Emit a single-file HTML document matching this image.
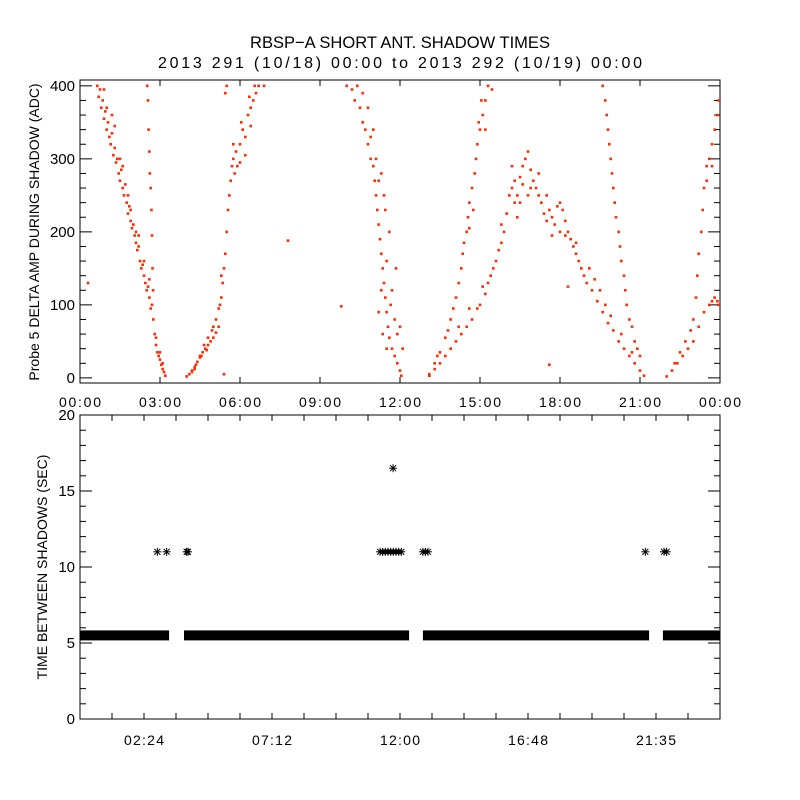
<!DOCTYPE html>
<html><head><meta charset="utf-8"><style>
html,body{margin:0;padding:0;background:#fff}
svg{display:block}
text{font-family:"Liberation Sans",sans-serif;fill:#000}
</style></head><body>
<svg id="chart" width="800" height="800" viewBox="0 0 800 800" xmlns="http://www.w3.org/2000/svg">
<rect width="800" height="800" fill="#fff"/>
<text x="400" y="48" font-size="17" text-anchor="middle" textLength="300" lengthAdjust="spacingAndGlyphs">RBSP−A SHORT ANT. SHADOW TIMES</text>
<text x="400" y="68" font-size="16" text-anchor="middle" textLength="484" lengthAdjust="spacing">2013 291 (10/18) 00:00 to 2013 292 (10/19) 00:00</text>
<g id="topPanel"></g>
<g id="botPanel"></g>
<text transform="translate(39,232) rotate(-90)" font-size="14" text-anchor="middle">Probe 5 DELTA AMP DURING SHADOW (ADC)</text>
<text transform="translate(47,567) rotate(-90)" font-size="14" text-anchor="middle">TIME BETWEEN SHADOWS (SEC)</text>
</svg>
<script>
// ---- data ----
const topXTicks = [0,3,6,9,12,15,18,21,24];
const topXTickLabels = ["00:00","03:00","06:00","09:00","12:00","15:00","18:00","21:00","00:00"];
const topYTicks = [0,100,200,300,400];
const arcA = [[0.65,400],[0.7,385],[0.75,395],[0.8,370],[0.85,380],[0.9,355],[0.95,365],[1.0,340],[1.05,350],[1.1,330],[1.15,320],[1.2,335],[1.25,305],[1.3,315],[1.35,295],[1.4,300],[1.45,280],[1.5,270],[1.55,285],[1.6,260],[1.65,250],[1.7,265],[1.75,240],[1.8,225],[1.85,235],[1.9,215],[1.95,205],[2.0,210],[2.05,195],[2.1,185],[2.15,175],[2.2,180],[2.25,160],[2.3,150],[2.35,155],[2.4,140],[2.45,130],[2.5,120],[2.55,125],[2.6,110],[2.65,95],[2.7,100],[2.75,80],[2.8,60],[2.85,45],[2.9,35],[2.95,30],[3.0,25],[3.05,18],[3.1,12],[3.15,8],[3.2,3],[0.9,395],[1.2,360],[1.5,300],[1.8,250],[2.1,200],[1.0,370],[1.3,345],[1.6,290],[1.9,230],[2.2,195],[2.4,160],[2.6,135],[2.85,55],[3.0,35],[3.1,20]];
const arcB = [[2.52,400],[2.55,380],[2.57,340],[2.6,310],[2.62,280],[2.65,260],[2.68,230],[2.7,195],[2.72,150],[2.74,120]];
const arcC = [[4.0,2],[4.1,5],[4.2,10],[4.3,15],[4.4,22],[4.5,28],[4.6,35],[4.7,40],[4.8,45],[4.9,50],[5.0,55],[5.1,62],[5.2,70],[4.2,8],[4.35,18],[4.5,30],[4.65,45],[4.8,55],[4.95,65],[5.1,80],[5.2,95],[5.3,110],[5.35,130],[5.4,150],[5.45,170],[5.5,200],[5.55,230],[5.6,250],[5.65,270],[5.7,290],[5.75,300],[5.85,310],[5.9,290],[6.0,320],[6.1,340],[6.2,330],[6.3,360],[6.4,370],[6.5,380],[6.6,390],[6.7,400],[6.9,400],[6.0,295],[6.2,305],[6.4,345],[5.8,280],[5.5,400],[5.45,390],[4.3,12],[4.55,30],[4.75,38],[5.0,70],[5.25,100],[5.3,140],[5.75,320],[6.05,350],[6.35,385],[6.55,400]];
const arcD = [[10.0,400],[10.2,395],[10.4,400],[10.3,380],[10.5,370],[10.6,350],[10.7,340],[10.8,320],[10.9,300],[11.0,290],[11.05,270],[11.1,250],[11.15,230],[11.2,210],[11.25,190],[11.3,170],[11.35,150],[11.4,130],[11.45,110],[11.5,90],[11.55,70],[11.6,55],[11.7,40],[11.8,30],[11.9,20],[12.0,10],[12.05,3],[10.6,390],[10.9,330],[11.3,280],[11.1,300],[11.4,250],[11.6,200],[11.5,160],[11.7,120],[11.8,80],[11.9,60],[11.3,120],[11.2,90],[11.35,60],[12.1,40],[11.5,40],[11.0,340],[10.8,370],[12.0,70],[11.85,150],[11.45,230],[11.2,270],[11.65,100]];
const arcE = [[13.1,5],[13.3,20],[13.5,35],[13.7,55],[13.9,80],[14.0,95],[14.1,110],[14.2,130],[14.3,150],[14.35,170],[14.4,185],[14.5,200],[14.55,220],[14.6,240],[14.7,260],[14.8,280],[14.85,300],[14.9,320],[15.0,340],[15.1,360],[15.2,380],[15.3,400],[15.45,395],[14.95,350],[15.2,340],[14.75,230],[14.6,205],[13.4,30],[13.8,65],[15.05,380]];
const arcF = [[13.1,3],[13.3,12],[13.5,20],[13.7,30],[13.9,40],[14.1,50],[14.3,60],[14.5,70],[14.7,80],[14.9,95],[15.0,100],[15.2,115],[15.3,130],[15.4,140],[15.5,150],[15.6,160],[15.7,175],[15.8,185],[15.9,200],[16.0,225],[16.1,250],[16.2,260],[16.3,270],[16.4,250],[16.5,275],[16.6,290],[16.7,300],[16.8,310],[16.9,285],[17.0,270],[17.1,260],[17.2,250],[16.5,240],[16.8,250],[16.3,240],[17.3,240],[17.4,225],[17.5,215],[17.6,230],[17.7,220],[17.8,210],[17.9,235],[18.0,240],[18.1,230],[18.2,215],[18.3,200],[18.4,190],[17.7,195],[18.0,200],[18.5,180],[18.6,170],[18.7,160],[18.8,150],[18.9,140],[19.0,130],[19.2,120],[19.4,105],[19.6,90],[19.8,75],[20.0,65],[20.2,50],[20.4,40],[20.6,30],[20.8,20],[21.0,10],[21.15,3],[19.1,150],[19.3,135],[19.5,120],[19.7,100],[14.2,70],[14.6,95],[15.1,125],[16.2,290],[17.2,280],[16.4,220],[16.9,260],[17.5,250],[18.2,195],[18.6,185],[19.9,85],[20.3,60],[20.7,35],[15.8,210],[16.6,265]];
const arcG = [[19.6,400],[19.7,380],[19.75,360],[19.8,340],[19.85,320],[19.9,300],[19.95,280],[20.0,260],[20.05,240],[20.1,220],[20.2,200],[20.25,180],[20.3,160],[20.4,140],[20.45,120],[20.5,100],[20.6,80],[20.7,70],[20.8,50],[20.9,40],[21.0,30]];
const arcH = [[22.0,2],[22.2,10],[22.4,20],[22.6,30],[22.8,40],[23.0,50],[23.2,70],[23.4,90],[23.6,100],[23.8,110],[23.9,105],[22.3,20],[22.5,35],[22.7,50],[22.9,65],[23.0,80],[23.1,110],[23.15,140],[23.2,170],[23.3,200],[23.35,230],[23.4,260],[23.5,290],[23.6,300],[23.7,320],[23.8,340],[23.9,360],[23.95,380],[23.5,270],[23.7,290],[23.7,105],[23.95,100]];
const strayPoints = [[0.3,130],[7.8,188],[9.8,98],[17.6,18],[18.3,125],[5.4,5]];
const botXTicks = [2.4,7.2,12,16.8,21.6];
const botXTickLabels = ["02:24","07:12","12:00","16:48","21:35"];
const botYTicks = [0,5,10,15,20];
const bandSegments = [[0,3.34],[3.9,12.34],[12.86,21.34],[21.86,24]];
const bandValue = 5.5;
const outlierTimes = [2.9,3.25,4.0,4.05,11.25,11.35,11.45,11.55,11.65,11.75,11.85,11.95,12.05,12.86,12.95,13.05,21.2,21.9,22.0,11.74];
const outlierValues = [11,11,11,11,11,11,11,11,11,11,11,11,11,11,11,11,11,11,11,16.5];

// ---- drawing ----
const NS="http://www.w3.org/2000/svg";
const topG=document.getElementById('topPanel'), botG=document.getElementById('botPanel');
const L=80,R=720;
const xs=h=>L+h/24*(R-L);
const T1=80,B1=383,ymin1=-7,ymax1=408;
const ys1=v=>B1-(v-ymin1)/(ymax1-ymin1)*(B1-T1);
const T2=415,B2=719;
const ys2=v=>B2-v/20*(B2-T2);
function mk(tag,attrs,parent){const e=document.createElementNS(NS,tag);for(const k in attrs)e.setAttribute(k,attrs[k]);parent.appendChild(e);return e;}

// top frame
const f1=mk('rect',{x:L,y:T1,width:R-L,height:B1-T1,fill:'none',stroke:'#000','stroke-width':1},topG);


topXTicks.forEach((t,i)=>{
  mk('line',{x1:xs(t),x2:xs(t),y1:B1,y2:B1-6,stroke:'#000'},topG);
  mk('line',{x1:xs(t),x2:xs(t),y1:T1,y2:T1+6,stroke:'#000'},topG);
  const tx=mk('text',{x:xs(t),y:407,'font-size':14,'text-anchor':'middle',textLength:42,lengthAdjust:'spacing'},topG);
  tx.textContent=topXTickLabels[i];
  
  
});
for(let v=0;v<=400;v+=20){
  const len=(v%100===0)?12:6;
  mk('line',{x1:L,x2:L+len,y1:ys1(v),y2:ys1(v),stroke:'#000'},topG);
  mk('line',{x1:R,x2:R-len,y1:ys1(v),y2:ys1(v),stroke:'#000'},topG);
}
topYTicks.forEach(v=>{
  const tx=mk('text',{x:75,y:ys1(v)+5,'font-size':15,'text-anchor':'end'},topG);
  tx.textContent=v;
  
  
});
[arcA,arcB,arcC,arcD,arcE,arcF,arcG,arcH,strayPoints].forEach(arr=>{
  arr.forEach(p=>{
    const d=mk('rect',{x:xs(p[0])-1.3,y:ys1(p[1])-1.3,width:2.6,height:2.6,fill:'#ff2a00'},topG);
    
    
  });
});

// bottom frame
const f2=mk('rect',{x:L,y:T2,width:R-L,height:B2-T2,fill:'none',stroke:'#000','stroke-width':1},botG);


for(let k=1;k<20;k++){
  const h=k*1.2;
  mk('line',{x1:xs(h),x2:xs(h),y1:B2,y2:B2-6,stroke:'#000'},botG);
  mk('line',{x1:xs(h),x2:xs(h),y1:T2,y2:T2+6,stroke:'#000'},botG);
}
botXTicks.forEach((t,i)=>{
  const tx=mk('text',{x:xs(t),y:745,'font-size':14,'text-anchor':'middle',textLength:40,lengthAdjust:'spacing'},botG);
  tx.textContent=botXTickLabels[i];
  
  
});
for(let v=0;v<=20;v++){
  const len=(v%5===0)?12:6;
  mk('line',{x1:L,x2:L+len,y1:ys2(v),y2:ys2(v),stroke:'#000'},botG);
  mk('line',{x1:R,x2:R-len,y1:ys2(v),y2:ys2(v),stroke:'#000'},botG);
}
botYTicks.forEach(v=>{
  const tx=mk('text',{x:75,y:ys2(v)+5,'font-size':15,'text-anchor':'end'},botG);
  tx.textContent=v;
  
  
});
bandSegments.forEach(s=>{
  const r=mk('rect',{x:xs(s[0]),y:ys2(bandValue)-5,width:xs(s[1])-xs(s[0]),height:10,fill:'#000'},botG);
  
  
});
function asterisk(cx,cy){
  const g=mk('g',{stroke:'#000','stroke-width':1},botG);
  
  
  mk('line',{x1:cx-4,x2:cx+4,y1:cy,y2:cy},g);
  mk('line',{x1:cx,x2:cx,y1:cy-4,y2:cy+4},g);
  mk('line',{x1:cx-3,x2:cx+3,y1:cy-3,y2:cy+3},g);
  mk('line',{x1:cx-3,x2:cx+3,y1:cy+3,y2:cy-3},g);
}
outlierTimes.forEach((t,i)=>asterisk(xs(t),ys2(outlierValues[i])));
</script>
</body></html>
